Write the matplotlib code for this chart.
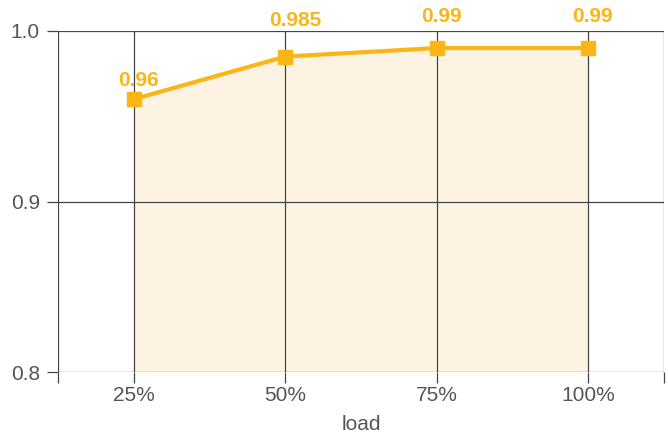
import matplotlib.pyplot as plt

loads = ['25%', '50%', '75%', '100%']
efficiency = [0.96, 0.985, 0.99, 0.99]
value_labels = ['0.96', '0.985', '0.99', '0.99']
y_ticks = [0.8, 0.9, 1.0]

# label offsets above each point, in pixels
label_dy = [13, 31, 26, 26]

line_color = '#fdb515'
fill_color = '#fdf3e2'
grid_color = '#444444'
text_color = '#555555'

plt.rcParams['font.family'] = ['Liberation Sans', 'DejaVu Sans']

fig = plt.figure(figsize=(6.68, 4.37), dpi=100)
ax = fig.add_axes([58 / 668, 1 - 372 / 437, 606 / 668, 341 / 437])

x = list(range(len(loads)))
ax.fill_between(x, efficiency, y_ticks[0], color=fill_color, lw=0, zorder=1)
ax.plot(x, efficiency, color=line_color, lw=3, marker='s', ms=10, zorder=4)

for xi, yi, lab, dy in zip(x, efficiency, value_labels, label_dy):
    ax.annotate(lab, (xi, yi), xytext=(-16 * 0.72, dy * 0.72), textcoords='offset points',
                ha='left', va='baseline', fontsize=15, fontweight='bold', color=line_color,
                zorder=5)

ax.set_xlim(-0.5, len(loads) - 0.5)
ax.set_ylim(y_ticks[0], y_ticks[-1])

# vertical lines at each category and at both edges
for xv in [-0.5] + x + [len(loads) - 0.5]:
    ax.axvline(xv, color=grid_color, lw=0.9, zorder=2)
for yv in y_ticks:
    ax.axhline(yv, color=grid_color, lw=0.9, zorder=2)

ax.set_xticks([-0.5] + x + [len(loads) - 0.5])
ax.set_xticklabels([''] + loads + [''])
ax.set_yticks(y_ticks)
ax.set_yticklabels([f'{v:.1f}' for v in y_ticks])
ax.tick_params(axis='x', length=8, width=0.9, color=grid_color, labelsize=15,
               labelcolor=text_color, pad=2)
ax.tick_params(axis='y', length=8, width=0.9, color=grid_color, labelsize=15,
               labelcolor=text_color, pad=5)
for s in ax.spines.values():
    s.set_visible(False)

ax.set_xlabel('load', fontsize=15, color=text_color, labelpad=7)

fig.savefig('out.png', dpi=100)
